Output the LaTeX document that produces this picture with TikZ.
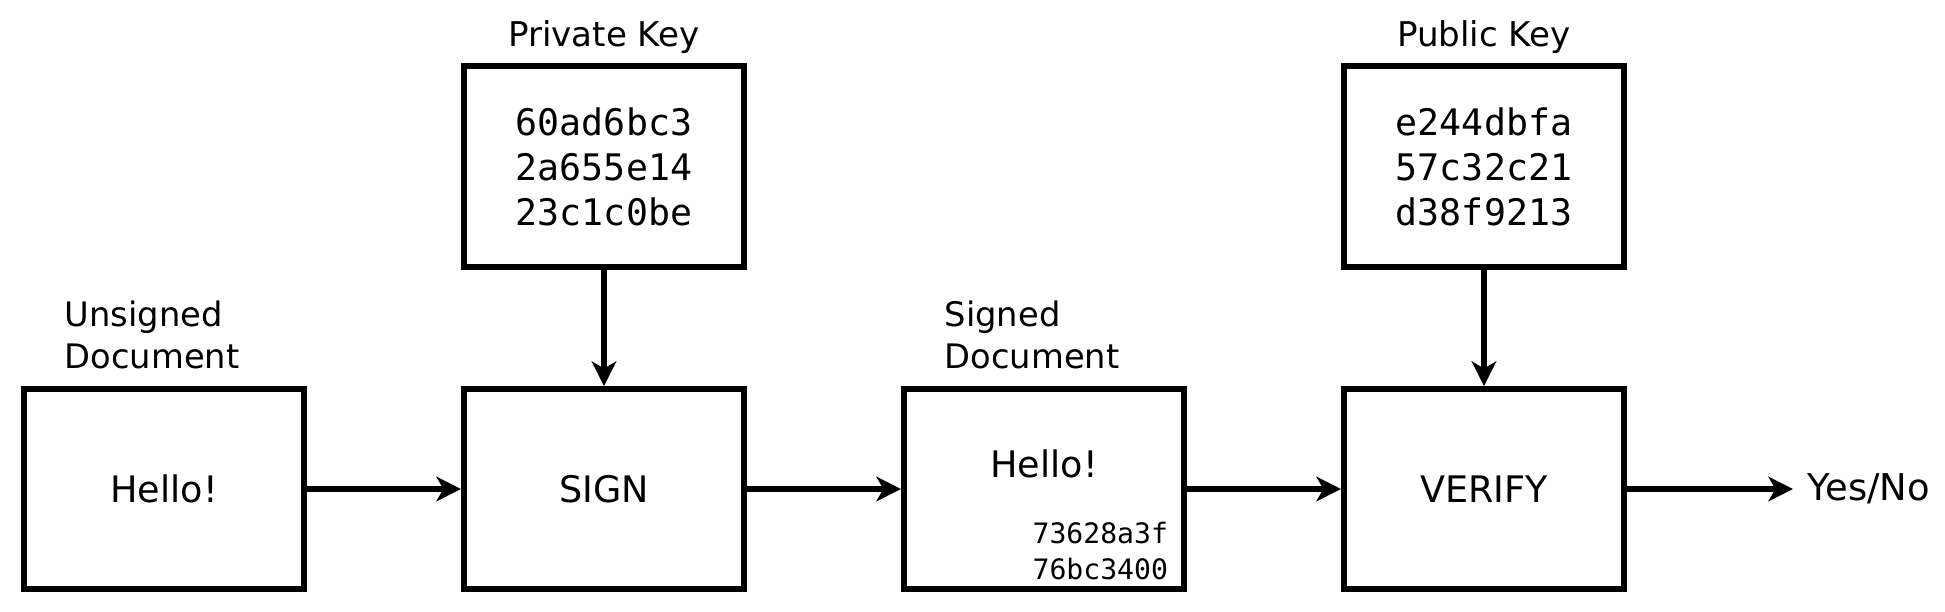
\documentclass[tikz,border=0pt]{standalone}
\usepackage{fontspec}
\setmainfont{DejaVu Sans}
\setmonofont{DejaVu Sans Mono}
\usetikzlibrary{positioning,arrows.meta}

\begin{document}
\begin{tikzpicture}[
    block/.style={rectangle,draw,line width=1.7pt,minimum width=2.80cm,
		minimum height=2.0cm,font=\fontsize{10.4}{12.8}\selectfont},
    keybox/.style={block,minimum height=2.01cm,align=center,
		font=\fontsize{10.4}{12.8}\selectfont\ttfamily},
% Labels above the boxes
    doclabel/.style={align=left,anchor=west,font=\fontsize{9.6}{12}\selectfont},
    keylabel/.style={font=\fontsize{9.7}{12}\selectfont}
    ]
   \useasboundingbox (0,0) rectangle (19.45,-6.11);
%%% Signing and verifying flow
   \begin{scope}[line width=1.7pt,node distance=4.40cm,on grid,
		>={Stealth[length=7pt,width=7pt,inset=2pt]}]
       \node [block] (unsigned) at (1.64,-4.89) {Hello!};
       \node [block] (sign) [right=of unsigned] {};
       \node [block] (signed) [right=of sign] {};
       \node [block] (verify) [right=of signed] {VERIFY};
       \node at (sign.center) [font=\fontsize{10.4}{12.8}\selectfont] (signtext) {SIGN};
       \node [keybox] (privkey) [above=3.225cm of sign] {60ad6bc3\\2a655e14\\23c1c0be};
       \node [keybox] (pubkey) [above=3.225cm of verify] {e244dbfa\\57c32c21\\d38f9213};
       \node [keylabel] (privlabel) at ([yshift=0.26cm]privkey.north) {Private Key};
       \node [keylabel] (publabel) at ([yshift=0.26cm]pubkey.north) {Public Key};
       \node [doclabel] (unsignedlabel) at ([xshift=0.29cm,yshift=0.51cm]unsigned.north west) {Unsigned\\Document};
       \node [doclabel] (signedlabel) at ([xshift=0.29cm,yshift=0.51cm]signed.north west) {Signed\\Document};
       \node [font=\fontsize{10.4}{12.8}\selectfont] (signedtext) at ([yshift=0.25cm]signed.center) {Hello!};
       \node [anchor=east,inner sep=0pt,align=right,
		font=\fontsize{8}{10.2}\selectfont\ttfamily] (signature) at ([xshift=-0.16cm,yshift=0.41cm]signed.south east) {73628a3f\\76bc3400};
       \node [anchor=west,font=\fontsize{10.5}{12.8}\selectfont] (result) at (17.93,-4.89) {Yes/No};

       \draw[->] (unsigned) -- (sign);
       \draw[->] (sign) -- (signed);
       \draw[->] (signed) -- (verify);
       \draw[->] (verify) -- (result);
       \draw[->] (privkey) -- (sign);
       \draw[->] (pubkey) -- (verify);
   \end{scope}
\end{tikzpicture}
\end{document}
